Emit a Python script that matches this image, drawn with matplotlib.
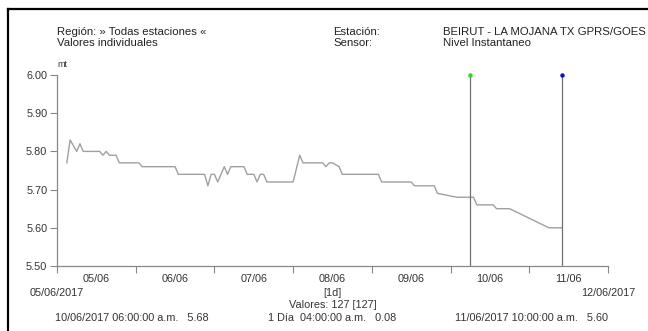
import matplotlib
matplotlib.use("Agg")
import matplotlib.pyplot as plt
import matplotlib.dates as mdates
from matplotlib.lines import Line2D
import pandas as pd

plt.rcParams["font.family"] = ["Liberation Sans", "DejaVu Sans"]
plt.rcParams["font.size"] = 7.8

W, H = 648, 331

# Series (vertices of the trace)
times = [
    "2017-06-05 03:00", "2017-06-05 04:00", "2017-06-05 06:00", "2017-06-05 07:00",
    "2017-06-05 08:00", "2017-06-05 13:00", "2017-06-05 14:00", "2017-06-05 15:00",
    "2017-06-05 16:00", "2017-06-05 18:00", "2017-06-05 19:00", "2017-06-06 01:00",
    "2017-06-06 02:00", "2017-06-06 12:00", "2017-06-06 13:00", "2017-06-06 21:00",
    "2017-06-06 22:00", "2017-06-06 23:00", "2017-06-07 00:00", "2017-06-07 01:00",
    "2017-06-07 03:00", "2017-06-07 04:00", "2017-06-07 05:00", "2017-06-07 09:00",
    "2017-06-07 10:00", "2017-06-07 12:00", "2017-06-07 13:00", "2017-06-07 14:00",
    "2017-06-07 15:00", "2017-06-07 16:00", "2017-06-08 00:00", "2017-06-08 02:00",
    "2017-06-08 03:00", "2017-06-08 09:00", "2017-06-08 10:00", "2017-06-08 11:00",
    "2017-06-08 12:00", "2017-06-08 14:00", "2017-06-08 15:00", "2017-06-09 02:00",
    "2017-06-09 03:00", "2017-06-09 12:00", "2017-06-09 13:00", "2017-06-09 19:00",
    "2017-06-09 20:00", "2017-06-10 02:00", "2017-06-10 07:00", "2017-06-10 08:00",
    "2017-06-10 13:00", "2017-06-10 14:00", "2017-06-10 18:00", "2017-06-11 06:00",
    "2017-06-11 10:00",
]
values = [
    5.77, 5.83, 5.80, 5.82,
    5.80, 5.80, 5.79, 5.80,
    5.79, 5.79, 5.77, 5.77,
    5.76, 5.76, 5.74, 5.74,
    5.71, 5.74, 5.74, 5.72,
    5.76, 5.74, 5.76, 5.76,
    5.74, 5.74, 5.72, 5.74,
    5.74, 5.72, 5.72, 5.79,
    5.77, 5.77, 5.76, 5.77,
    5.77, 5.76, 5.74, 5.74,
    5.72, 5.72, 5.71, 5.71,
    5.69, 5.68, 5.68, 5.66,
    5.66, 5.65, 5.65, 5.60,
    5.60,
]

cursor_times = ["2017-06-10 06:00", "2017-06-11 10:00"]
cursor_values = [5.68, 5.60]
cursor_colors = ["#22dd22", "#1010cc"]

x_start, x_end = "2017-06-05", "2017-06-12"
y_ticks = [5.50, 5.60, 5.70, 5.80, 5.90, 6.00]
n_values = 127

t = pd.to_datetime(times)
ct = pd.to_datetime(cursor_times)
t0, t1 = pd.Timestamp(x_start), pd.Timestamp(x_end)

fig = plt.figure(figsize=(W / 100, H / 100), dpi=100)
ax = fig.add_axes([57 / W, 1 - 266 / H, (608 - 57) / W, (266 - 75) / H])

ax.plot(t, values, color="#a0a0a0", lw=1.0)
for c, col in zip(ct, cursor_colors):
    ax.plot([c, c], [y_ticks[0], y_ticks[-1]], color="#707070", lw=0.9)
    ax.plot(c, y_ticks[-1], "o", color=col, ms=3.2, mec="none", clip_on=False, zorder=5)

ax.set_xlim(t0, t1)
ax.set_ylim(y_ticks[0], y_ticks[-1])
ax.set_yticks(y_ticks)
ax.set_yticklabels([f"{v:.2f}" for v in y_ticks])

ax.xaxis.set_major_locator(mdates.DayLocator())
ax.xaxis.set_major_formatter(plt.NullFormatter())
ax.xaxis.set_minor_locator(mdates.HourLocator(byhour=[12]))
ax.xaxis.set_minor_formatter(mdates.DateFormatter("%d/%m"))
ax.tick_params(axis="x", which="minor", length=0, pad=6, labelsize=7.8, labelcolor="#333333")
ax.tick_params(axis="x", which="major", length=5, color="#888888")
ax.tick_params(axis="y", length=5, color="#888888", labelcolor="#333333", pad=2)

for s in ["top", "right"]:
    ax.spines[s].set_visible(False)
for s in ["left", "bottom"]:
    ax.spines[s].set_color("#888888")
    ax.spines[s].set_linewidth(0.9)

ax.text(0, 1.03, "mt", transform=ax.transAxes, fontsize=6.5, color="#333333", va="bottom")

# date range ends and centre info
ax.text(0, -27 / 191, t0.strftime("%d/%m/%Y"), transform=ax.transAxes,
        ha="center", va="center", color="#333333")
ax.text(1, -27 / 191, t1.strftime("%d/%m/%Y"), transform=ax.transAxes,
        ha="center", va="center", color="#333333")
ax.text(0.5, -27 / 191, "[1d]", transform=ax.transAxes, ha="center", va="center", color="#333333")
ax.text(0.5, -39 / 191, f"Valores: {n_values} [{n_values}]", transform=ax.transAxes,
        ha="center", va="center", color="#333333")


def stamp(ts):
    ampm = "a.m." if ts.hour < 12 else "p.m."
    return ts.strftime("%d/%m/%Y %I:%M:%S ") + ampm


delta = ct[1] - ct[0]
hrs = delta.seconds // 3600
diff = cursor_values[0] - cursor_values[1]
fig.text(55 / W, 1 - 318 / H, f"{stamp(ct[0])}   {cursor_values[0]:.2f}",
         ha="left", va="center", color="#333333")
fig.text(332 / W, 1 - 318 / H, f"{delta.days} Día  {hrs:02d}:00:00 a.m.   {diff:.2f}",
         ha="center", va="center", color="#333333")
fig.text(608 / W, 1 - 318 / H, f"{stamp(ct[1])}   {cursor_values[1]:.2f}",
         ha="right", va="center", color="#333333")

# header
hdr = dict(ha="left", va="center", color="#222222", fontsize=8.2)
fig.text(57 / W, 1 - 32 / H, "Región: » Todas estaciones «", **hdr)
fig.text(57 / W, 1 - 43 / H, "Valores individuales", **hdr)
fig.text(333 / W, 1 - 32 / H, "Estación:", **hdr)
fig.text(333 / W, 1 - 43 / H, "Sensor:", **hdr)
fig.text(443 / W, 1 - 32 / H, "BEIRUT - LA MOJANA TX GPRS/GOES", **hdr)
fig.text(443 / W, 1 - 43 / H, "Nivel Instantaneo", **hdr)

# screenshot frame
fig.add_artist(Line2D([8 / W, 1], [1 - 9 / H, 1 - 9 / H], color="black", lw=1.6))
fig.add_artist(Line2D([8 / W, 8 / W], [0, 1 - 9 / H], color="black", lw=1.6))

fig.savefig("out.png", dpi=100)
